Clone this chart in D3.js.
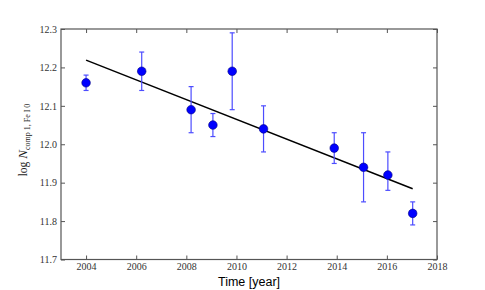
<!DOCTYPE html>
<html>
<head>
<meta charset="utf-8">
<script src="https://cdn.jsdelivr.net/npm/d3@7"></script>
<style>
  body { margin: 0; background: #fff; }
  svg { display: block; }
</style>
</head>
<body>
<svg id="chart" width="485" height="290"></svg>
<script>
/** Observation epochs (year) */
var years = [2004.0, 2006.22, 2008.19, 2009.06, 2009.83, 2011.08, 2013.9, 2015.07, 2016.04, 2017.03];

/** log column density values */
var logN = [12.16, 12.19, 12.09, 12.05, 12.19, 12.04, 11.99, 11.94, 11.92, 11.82];

/** lower / upper ends of the error bars */
var errLow = [12.14, 12.14, 12.03, 12.02, 12.09, 11.98, 11.95, 11.85, 11.88, 11.79];
var errHigh = [12.18, 12.24, 12.15, 12.08, 12.29, 12.10, 12.03, 12.03, 11.98, 11.85];

/** Linear fit end points */
var fitYears = [2004.0, 2017.03];
var fitValues = [12.219, 11.884];

/** Tick values */
var xTicks = [2004, 2006, 2008, 2010, 2012, 2014, 2016, 2018];
var yTicks = [11.7, 11.8, 11.9, 12.0, 12.1, 12.2, 12.3];

var margin = {left: 61, right: 48, top: 29, bottom: 30.5},
    width = 485,
    height = 290;

var svg = d3.select('#chart');

var xScale = d3.scaleLinear()
    .domain([2003, 2018])
    .range([margin.left, width - margin.right]);

var yScale = d3.scaleLinear()
    .domain([11.7, 12.3])
    .range([height - margin.bottom, margin.top]);

var axisColor = '#555';

// Axes, matplotlib classic style with inward ticks on all sides
function styleAxis(g, showLabels) {
    g.select('.domain').remove();
    g.selectAll('line').attr('stroke', axisColor);
    g.selectAll('text')
        .attr('font-family', "'Liberation Serif', serif")
        .attr('font-size', 10)
        .attr('fill', '#333')
        .style('display', showLabels ? null : 'none');
}

svg.append('g')
    .attr('transform', 'translate(0,' + yScale.range()[0] + ')')
    .call(d3.axisBottom(xScale).tickValues(xTicks).tickFormat(d3.format('d'))
        .tickSizeInner(-4).tickSizeOuter(0).tickPadding(3))
    .call(styleAxis, true);

svg.append('g')
    .attr('transform', 'translate(0,' + yScale.range()[1] + ')')
    .call(d3.axisTop(xScale).tickValues(xTicks).tickSizeInner(-4).tickSizeOuter(0))
    .call(styleAxis, false);

svg.append('g')
    .attr('transform', 'translate(' + xScale.range()[0] + ',0)')
    .call(d3.axisLeft(yScale).tickValues(yTicks).tickFormat(d3.format('.1f'))
        .tickSizeInner(-4).tickSizeOuter(0).tickPadding(4))
    .call(styleAxis, true);

svg.append('g')
    .attr('transform', 'translate(' + xScale.range()[1] + ',0)')
    .call(d3.axisRight(yScale).tickValues(yTicks).tickSizeInner(-4).tickSizeOuter(0))
    .call(styleAxis, false);

// frame
svg.append('rect')
    .attr('x', xScale.range()[0])
    .attr('y', yScale.range()[1])
    .attr('width', xScale.range()[1] - xScale.range()[0])
    .attr('height', yScale.range()[0] - yScale.range()[1])
    .attr('fill', 'none')
    .attr('stroke', axisColor)
    .attr('stroke-width', 1.2);

// fit line
svg.append('line')
    .attr('x1', xScale(fitYears[0]))
    .attr('y1', yScale(fitValues[0]))
    .attr('x2', xScale(fitYears[1]))
    .attr('y2', yScale(fitValues[1]))
    .attr('stroke', '#000')
    .attr('stroke-width', 1.5);

var points = years.map(function(d, i) {
    return {x: d, y: logN[i], lo: errLow[i], hi: errHigh[i]};
});

// error bars
var errs = svg.append('g')
    .attr('stroke', '#4d4dff')
    .attr('stroke-width', 1.2)
    .selectAll('g')
    .data(points)
    .enter()
    .append('g');

errs.append('line')
    .attr('x1', function(d) { return xScale(d.x); })
    .attr('x2', function(d) { return xScale(d.x); })
    .attr('y1', function(d) { return yScale(d.lo); })
    .attr('y2', function(d) { return yScale(d.hi); });

errs.selectAll('.cap')
    .data(function(d) { return [{x: d.x, v: d.lo}, {x: d.x, v: d.hi}]; })
    .enter()
    .append('line')
    .attr('class', 'cap')
    .attr('x1', function(d) { return xScale(d.x) - 2.5; })
    .attr('x2', function(d) { return xScale(d.x) + 2.5; })
    .attr('y1', function(d) { return yScale(d.v); })
    .attr('y2', function(d) { return yScale(d.v); });

// markers
svg.append('g')
    .selectAll('circle')
    .data(points)
    .enter()
    .append('circle')
    .attr('cx', function(d) { return xScale(d.x); })
    .attr('cy', function(d) { return yScale(d.y); })
    .attr('r', 4.3)
    .attr('fill', '#0000ff')
    .attr('stroke', '#000080')
    .attr('stroke-width', 0.6);

// x label
svg.append('text')
    .attr('x', (xScale.range()[0] + xScale.range()[1]) / 2)
    .attr('y', 286)
    .attr('text-anchor', 'middle')
    .attr('font-family', "'Liberation Sans', Arial, sans-serif")
    .attr('font-size', 12.5)
    .attr('fill', '#000')
    .text('Time [year]');

// y label
var ylab = svg.append('text')
    .attr('transform', 'translate(27,140) rotate(-90)')
    .attr('text-anchor', 'middle')
    .attr('font-family', "'Liberation Serif', serif")
    .attr('font-size', 11.5)
    .attr('fill', '#222');
ylab.append('tspan').text('log ');
ylab.append('tspan').attr('font-style', 'italic').attr('font-size', 13).text('N');
ylab.append('tspan').attr('font-size', 8).attr('dy', 2.5).text('comp 1, Fe I 0');
</script>
</body>
</html>
